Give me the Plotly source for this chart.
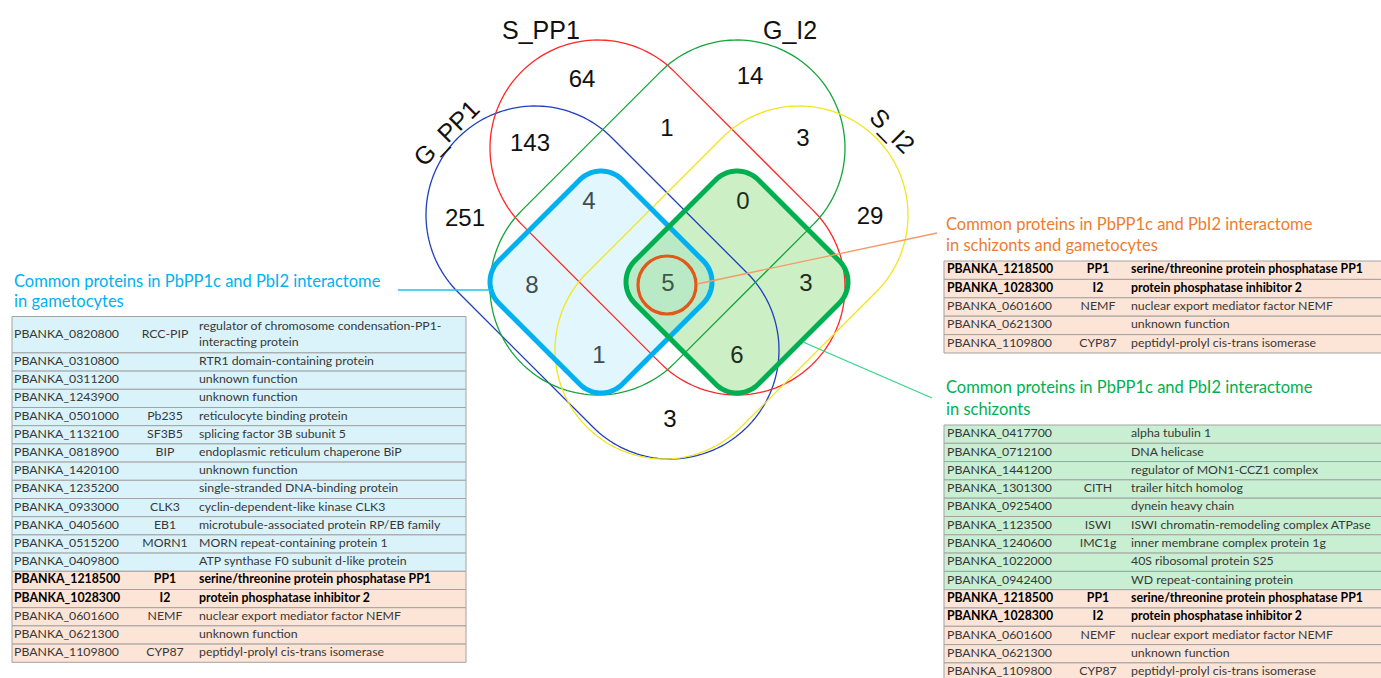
import numpy as np
import plotly.graph_objects as go

# ---------------- data ----------------
set_names = ["G_PP1", "S_PP1", "G_I2", "S_I2"]
set_colors = ["#1f3fbf", "#ff2626", "#15a43a", "#f3e51e"]

region_keys = ["G_PP1", "S_PP1", "G_I2", "S_I2",
               "G_PP1&S_PP1", "S_PP1&G_I2", "G_I2&S_I2",
               "G_PP1&S_PP1&G_I2", "S_PP1&G_I2&S_I2", "G_PP1&G_I2",
               "ALL", "S_PP1&S_I2", "G_PP1&G_I2&S_I2", "G_PP1&S_PP1&S_I2",
               "G_PP1&S_I2"]
region_counts = [251, 64, 14, 29, 143, 1, 3, 4, 0, 8, 5, 3, 1, 6, 3]

gam_title = ["Common proteins in PbPP1c and PbI2 interactome", "in gametocytes"]
gam_ids = ["PBANKA_0820800", "PBANKA_0310800", "PBANKA_0311200", "PBANKA_1243900",
           "PBANKA_0501000", "PBANKA_1132100", "PBANKA_0818900", "PBANKA_1420100",
           "PBANKA_1235200", "PBANKA_0933000", "PBANKA_0405600", "PBANKA_0515200",
           "PBANKA_0409800"]
gam_genes = ["RCC-PIP", "", "", "", "Pb235", "SF3B5", "BIP", "", "", "CLK3", "EB1", "MORN1", ""]
gam_desc = ["regulator of chromosome condensation-PP1-<br>interacting protein",
            "RTR1 domain-containing protein", "unknown function", "unknown function",
            "reticulocyte binding protein", "splicing factor 3B subunit 5",
            "endoplasmic reticulum chaperone BiP", "unknown function",
            "single-stranded DNA-binding protein", "cyclin-dependent-like kinase CLK3",
            "microtubule-associated protein RP/EB family", "MORN repeat-containing protein 1",
            "ATP synthase F0 subunit d-like protein"]

both_title = ["Common proteins in PbPP1c and PbI2 interactome", "in schizonts and gametocytes"]
common_ids = ["PBANKA_1218500", "PBANKA_1028300", "PBANKA_0601600", "PBANKA_0621300", "PBANKA_1109800"]
common_genes = ["PP1", "I2", "NEMF", "", "CYP87"]
common_desc = ["serine/threonine protein phosphatase PP1", "protein phosphatase inhibitor 2",
               "nuclear export mediator factor NEMF", "unknown function",
               "peptidyl-prolyl cis-trans isomerase"]
common_bold = [True, True, False, False, False]

sch_title = ["Common proteins in PbPP1c and PbI2 interactome", "in schizonts"]
sch_ids = ["PBANKA_0417700", "PBANKA_0712100", "PBANKA_1441200", "PBANKA_1301300",
           "PBANKA_0925400", "PBANKA_1123500", "PBANKA_1240600", "PBANKA_1022000",
           "PBANKA_0942400"]
sch_genes = ["", "", "", "CITH", "", "ISWI", "IMC1g", "", ""]
sch_desc = ["alpha tubulin 1", "DNA helicase", "regulator of MON1-CCZ1 complex",
            "trailer hitch homolog", "dynein heavy chain",
            "ISWI chromatin-remodeling complex ATPase", "inner membrane complex protein 1g",
            "40S ribosomal protein S25", "WD repeat-containing protein"]

# ---------------- layout constants ----------------
W, H = 1381, 678
NUM_FONT = "Liberation Sans, Arial, sans-serif"
TAB_FONT = "Lato, Open Sans, sans-serif"
CYAN = "#00b0f0"
GREEN = "#00b050"
ORANGE = "#ed7d31"

# Venn capsules: (circle centre 1, circle centre 2, radius)
capsules = {
    "G_PP1": ((535, 215), (670, 350), 109),
    "S_PP1": ((598, 148), (737, 287), 108),
    "G_I2": ((737, 148), (598, 287), 108),
    "S_I2": ((799, 215), (664, 350), 109),
}
label_pos = {"G_PP1": (446, 133, -45), "S_PP1": (541, 30, 0),
             "G_I2": (790, 30, 0), "S_I2": (892, 130, 45)}
region_pos = {
    "G_PP1": (465, 220), "S_PP1": (582, 81), "G_I2": (750, 78), "S_I2": (870, 218),
    "G_PP1&S_PP1": (530, 145), "S_PP1&G_I2": (667, 130), "G_I2&S_I2": (803, 140),
    "G_PP1&S_PP1&G_I2": (589, 203), "S_PP1&G_I2&S_I2": (743, 203), "G_PP1&G_I2": (532, 287),
    "ALL": (668, 285), "S_PP1&S_I2": (806, 285), "G_PP1&G_I2&S_I2": (599, 357),
    "G_PP1&S_PP1&S_I2": (737, 357), "G_PP1&S_I2": (670, 421),
}
cyan_regions = {"G_PP1&S_PP1&G_I2", "G_PP1&G_I2", "G_PP1&G_I2&S_I2"}
green_regions = {"S_PP1&G_I2&S_I2", "S_PP1&S_I2", "G_PP1&S_PP1&S_I2"}


def pts_to_path(pts):
    return "M " + " L ".join(f"{x:.2f},{y:.2f}" for x, y in pts) + " Z"


def capsule_path(c1, c2, r, n=80):
    c1, c2 = np.array(c1, float), np.array(c2, float)
    d = c2 - c1
    a = np.arctan2(d[1], d[0])
    pts = []
    for t in np.linspace(a - np.pi / 2, a + np.pi / 2, n):
        pts.append(c2 + r * np.array([np.cos(t), np.sin(t)]))
    for t in np.linspace(a + np.pi / 2, a + 3 * np.pi / 2, n):
        pts.append(c1 + r * np.array([np.cos(t), np.sin(t)]))
    return pts_to_path(pts)


def rounded_diamond(cx, cy, ext, rc, n=24):
    d = ext - rc
    pts = []
    for vx, vy, a in [(cx + d, cy, 0), (cx, cy + d, 90), (cx - d, cy, 180), (cx, cy - d, 270)]:
        for t in np.linspace(np.radians(a - 45), np.radians(a + 45), n):
            pts.append((vx + rc * np.cos(t), vy + rc * np.sin(t)))
    return pts_to_path(pts)


fig = go.Figure()
shapes = []
annotations = []
LAYER = "below"

# highlight fills
cyan_sq = rounded_diamond(601, 282, 111, 30)
green_sq = rounded_diamond(737, 282, 111, 30)
shapes.append(dict(type="path", path=cyan_sq, fillcolor="#e1f7fd", line=dict(width=0), layer=LAYER))
shapes.append(dict(type="path", path=green_sq, fillcolor="rgba(124,214,104,0.38)", line=dict(width=0), layer=LAYER))

# venn outlines
for name, col in zip(set_names, set_colors):
    c1, c2, r = capsules[name]
    shapes.append(dict(type="path", path=capsule_path(c1, c2, r), line=dict(color=col, width=1.3),
                       fillcolor="rgba(0,0,0,0)", layer=LAYER))

# highlight borders
shapes.append(dict(type="path", path=cyan_sq, line=dict(color=CYAN, width=5), fillcolor="rgba(0,0,0,0)", layer=LAYER))
shapes.append(dict(type="path", path=green_sq, line=dict(color=GREEN, width=5), fillcolor="rgba(0,0,0,0)", layer=LAYER))
shapes.append(dict(type="circle", x0=638, x1=696, y0=256, y1=314, line=dict(color="#e2581a", width=3.2), layer=LAYER))

# connector lines
shapes.append(dict(type="line", x0=398, y0=290, x1=491, y1=290, line=dict(color="#1ec0f0", width=1.3), layer=LAYER))
shapes.append(dict(type="line", x0=697, y0=284, x1=937, y1=233, line=dict(color="#f39a66", width=1.3), layer=LAYER))
shapes.append(dict(type="line", x0=803, y0=342, x1=932, y1=398, line=dict(color="#2fd58a", width=1.2), layer=LAYER))

# venn labels
for name in set_names:
    x, y, ang = label_pos[name]
    annotations.append(dict(x=x, y=y, text=name, showarrow=False, textangle=ang,
                            font=dict(family=NUM_FONT, size=25, color="#111111"),
                            xanchor="center", yanchor="middle"))

# region counts
cnt_x, cnt_y, cnt_c = [], [], []
for key, cnt in zip(region_keys, region_counts):
    x, y = region_pos[key]
    cnt_x.append(x)
    cnt_y.append(y)
    if key == "ALL":
        cnt_c.append("#3c5a48")
    elif key in cyan_regions:
        cnt_c.append("#3f4c52")
    elif key in green_regions:
        cnt_c.append("#1e2e1e")
    else:
        cnt_c.append("#111111")
fig.add_trace(go.Scatter(x=cnt_x, y=cnt_y, mode="text", text=[str(c) for c in region_counts],
                         textposition="middle center", hoverinfo="skip",
                         textfont=dict(family=NUM_FONT, size=24, color=cnt_c)))


def draw_table(x0, x1, y_top, row_h, ids, genes, descs, fills, bolds, col_id, col_gene, col_desc,
               title, title_y, title_color):
    # title
    for i, line in enumerate(title):
        annotations.append(dict(x=x0, y=title_y[i], text=line, showarrow=False,
                                xanchor="left", yanchor="middle",
                                font=dict(family=TAB_FONT, size=16.5, color=title_color)))
    y = y_top
    ty, tg, td, tid, tcol = [], [], [], [], []
    for i in range(len(ids)):
        nlines = descs[i].count("<br>") + 1
        h = row_h * nlines
        shapes.append(dict(type="rect", x0=x0, x1=x1, y0=y, y1=y + h, fillcolor=fills[i],
                           line=dict(color="#a3a3a3", width=1), layer=LAYER))
        yc = y + h / 2
        b = bolds[i]
        wrap = (lambda s: f"<b>{s}</b>" if (b and s) else s)
        tid.append(wrap(ids[i]))
        tg.append(wrap(genes[i]))
        td.append(wrap(descs[i]))
        ty.append(yc)
        tcol.append("#000000" if b else "#383838")
        y += h
    font = dict(family=TAB_FONT, size=12.3, color=tcol)
    fig.add_trace(go.Scatter(x=[col_id] * len(ty), y=ty, mode="text", text=tid, textposition="middle right",
                             textfont=font, hoverinfo="skip", cliponaxis=False))
    fig.add_trace(go.Scatter(x=[col_gene] * len(ty), y=ty, mode="text", text=tg, textposition="middle center",
                             textfont=font, hoverinfo="skip", cliponaxis=False))
    fig.add_trace(go.Scatter(x=[col_desc] * len(ty), y=ty, mode="text", text=td, textposition="middle right",
                             textfont=font, hoverinfo="skip", cliponaxis=False))


BLUE_ROW = "#daf3fb"
PEACH_ROW = "#fce4d6"
GREEN_ROW = "#c8efd2"

# left table: gametocytes
draw_table(12, 466, 316.5, 18.2,
           gam_ids + common_ids, gam_genes + common_genes, gam_desc + common_desc,
           [BLUE_ROW] * len(gam_ids) + [PEACH_ROW] * len(common_ids),
           [False] * len(gam_ids) + common_bold,
           14, 165, 199, gam_title, [281, 301], CYAN)

# right top: schizonts and gametocytes
draw_table(944, 1400, 261, 18.4, common_ids, common_genes, common_desc,
           [PEACH_ROW] * len(common_ids), common_bold,
           947, 1098, 1131, both_title, [224, 245], ORANGE)

# right bottom: schizonts
draw_table(944, 1400, 425, 18.3,
           sch_ids + common_ids, sch_genes + common_genes, sch_desc + common_desc,
           [GREEN_ROW] * len(sch_ids) + [PEACH_ROW] * len(common_ids),
           [False] * len(sch_ids) + common_bold,
           947, 1098, 1131, sch_title, [387, 409], GREEN)

fig.update_layout(
    width=W, height=H, margin=dict(l=0, r=0, t=0, b=0),
    paper_bgcolor="white", plot_bgcolor="white", showlegend=False,
    xaxis=dict(range=[0, W], visible=False, fixedrange=True),
    yaxis=dict(range=[H, 0], visible=False, fixedrange=True),
    shapes=shapes, annotations=annotations,
)

fig.write_html("out.html", post_script="document.body.style.margin='0';",
               config={"displayModeBar": False})
